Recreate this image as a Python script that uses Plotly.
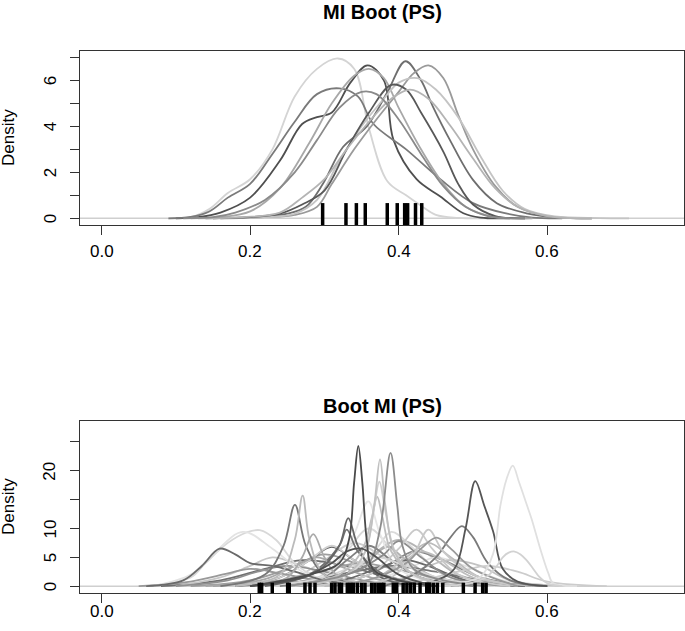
import plotly.graph_objects as go

W, H = 685, 631

top_title = "MI Boot (PS)"
bottom_title = "Boot MI (PS)"
y_label = "Density"

x_tick_vals = [0.0, 0.2, 0.4, 0.6]
x_tick_text = ["0.0", "0.2", "0.4", "0.6"]
top_y_tick_vals = [0, 1, 2, 3, 4, 5, 6, 7]
top_y_tick_text = ["0", "", "2", "", "4", "", "6", ""]
bottom_y_tick_vals = [0, 5, 10, 15, 20, 25]
bottom_y_tick_text = ["0", "5", "10", "", "20", ""]

# ---------- top panel: 10 imputation densities ----------
top_rug = [0.2976, 0.329, 0.343, 0.355, 0.3846, 0.398, 0.408, 0.412, 0.4226, 0.431]

top_curve_gray = ["#d4d4d4", "#4f4f4f", "#7a7a7a", "#a8a8a8", "#6e6e6e",
                  "#9a9a9a", "#c4c4c4", "#585858", "#b4b4b4", "#8a8a8a"]
top_curve_x = [
    [0.09, 0.12, 0.145, 0.17, 0.20, 0.23, 0.26, 0.29, 0.318, 0.34, 0.36, 0.385, 0.41, 0.43, 0.45, 0.48, 0.52],
    [0.10, 0.13, 0.16, 0.20, 0.24, 0.27, 0.29, 0.31, 0.335, 0.358, 0.38, 0.393, 0.424, 0.456, 0.487, 0.51, 0.55],
    [0.09, 0.12, 0.145, 0.17, 0.20, 0.23, 0.26, 0.29, 0.32, 0.345, 0.366, 0.41, 0.456, 0.50, 0.546, 0.58, 0.62],
    [0.12, 0.16, 0.20, 0.24, 0.28, 0.31, 0.34, 0.36, 0.38, 0.40, 0.43, 0.46, 0.49, 0.53, 0.58],
    [0.14, 0.20, 0.25, 0.275, 0.298, 0.325, 0.357, 0.385, 0.409, 0.43, 0.446, 0.469, 0.50, 0.532, 0.572, 0.62, 0.66],
    [0.16, 0.22, 0.26, 0.29, 0.31, 0.34, 0.37, 0.40, 0.42, 0.44, 0.46, 0.48, 0.50, 0.53, 0.56, 0.60, 0.66],
    [0.16, 0.22, 0.26, 0.29, 0.32, 0.35, 0.38, 0.40, 0.425, 0.45, 0.48, 0.51, 0.54, 0.57, 0.61, 0.67, 0.71],
    [0.15, 0.20, 0.24, 0.27, 0.30, 0.33, 0.36, 0.39, 0.41, 0.43, 0.46, 0.48, 0.50, 0.53, 0.57],
    [0.13, 0.19, 0.24, 0.27, 0.30, 0.33, 0.36, 0.39, 0.415, 0.44, 0.47, 0.50, 0.53, 0.56, 0.60, 0.66],
    [0.11, 0.15, 0.18, 0.22, 0.26, 0.29, 0.32, 0.35, 0.37, 0.40, 0.43, 0.46, 0.49, 0.52, 0.57],
]
top_curve_y = [
    [0.0, 0.05, 0.4, 1.1, 1.7, 3.0, 5.3, 6.5, 6.95, 6.5, 3.9, 1.6, 1.0, 0.55, 0.15, 0.02, 0.0],
    [0.0, 0.05, 0.25, 0.9, 2.5, 4.1, 4.4, 4.6, 5.9, 6.65, 6.0, 3.4, 1.7, 0.95, 0.22, 0.03, 0.0],
    [0.0, 0.06, 0.3, 0.9, 1.5, 2.8, 4.2, 5.4, 5.65, 5.3, 4.1, 3.0, 1.7, 0.66, 0.2, 0.03, 0.0],
    [0.0, 0.05, 0.3, 1.3, 3.3, 5.0, 6.2, 6.5, 6.1, 4.8, 3.0, 1.5, 0.5, 0.05, 0.0],
    [0.0, 0.05, 0.2, 0.5, 1.5, 3.1, 4.0, 5.5, 6.83, 6.0, 4.86, 3.4, 1.67, 0.66, 0.22, 0.03, 0.0],
    [0.0, 0.05, 0.15, 0.5, 1.5, 3.0, 4.3, 5.5, 6.3, 6.65, 6.1, 4.5, 3.0, 1.4, 0.5, 0.1, 0.0],
    [0.0, 0.05, 0.2, 0.8, 2.5, 4.0, 5.2, 5.9, 6.1, 5.6, 4.4, 2.7, 1.2, 0.4, 0.08, 0.01, 0.0],
    [0.0, 0.05, 0.2, 0.6, 1.2, 3.0, 4.6, 5.8, 5.6, 4.6, 2.9, 1.5, 0.6, 0.1, 0.0],
    [0.0, 0.05, 0.25, 0.9, 1.7, 3.0, 4.2, 5.2, 5.6, 5.2, 4.0, 2.6, 1.3, 0.5, 0.1, 0.0],
    [0.0, 0.05, 0.25, 0.8, 2.0, 3.4, 4.8, 5.5, 5.4, 4.3, 2.8, 1.4, 0.5, 0.1, 0.0],
]

# ---------- bottom panel: bootstrap densities ----------
bottom_rug = [0.2123, 0.2155, 0.2298, 0.2505, 0.2527, 0.2738, 0.2806, 0.2873,
              0.3097, 0.3142, 0.32, 0.323, 0.3308, 0.3353, 0.3389, 0.3443, 0.3501,
              0.3546, 0.3636, 0.368, 0.3726, 0.377, 0.380, 0.3927, 0.3973,
              0.406, 0.411, 0.416, 0.421, 0.4287, 0.4377, 0.4412, 0.4466, 0.452,
              0.4593, 0.487, 0.5028, 0.513, 0.5176]

bottom_curve_gray = [
    "#9e9e9e", "#cdcdcd", "#6f6f6f", "#b5b5b5", "#d9d9d9", "#858585", "#c7c7c7",
    "#5f5f5f", "#e2e2e2", "#a0a0a0", "#b0b0b0", "#d0d0d0", "#777777", "#bdbdbd",
    "#909090", "#dadada", "#696969", "#c2c2c2", "#a8a8a8", "#e5e5e5", "#808080",
    "#cccccc", "#999999", "#bbbbbb", "#d6d6d6", "#8c8c8c", "#c9c9c9", "#727272",
    "#d8d8d8", "#e3e3e3", "#6a6a6a", "#777777", "#bbbbbb", "#aaaaaa", "#666666",
    "#7a7a7a", "#c8c8c8", "#999999", "#555555", "#e0e0e0", "#bebebe", "#d0d0d0",
    "#c0c0c0", "#8c8c8c", "#4a4a4a", "#505050", "#d2d2d2",
]
bottom_curve_x = [
    [0.12, 0.20, 0.25, 0.30, 0.35, 0.40, 0.48],
    [0.18, 0.26, 0.30, 0.34, 0.38, 0.43, 0.50],
    [0.08, 0.16, 0.22, 0.27, 0.33, 0.40, 0.48],
    [0.25, 0.32, 0.36, 0.40, 0.44, 0.48, 0.56],
    [0.22, 0.30, 0.33, 0.36, 0.39, 0.43, 0.50],
    [0.28, 0.35, 0.39, 0.42, 0.46, 0.51, 0.58],
    [0.10, 0.16, 0.20, 0.23, 0.27, 0.32, 0.40],
    [0.18, 0.24, 0.28, 0.31, 0.34, 0.38, 0.45],
    [0.30, 0.37, 0.42, 0.45, 0.49, 0.54, 0.62],
    [0.15, 0.24, 0.30, 0.35, 0.40, 0.47, 0.56],
    [0.25, 0.32, 0.36, 0.385, 0.41, 0.45, 0.52],
    [0.17, 0.24, 0.28, 0.31, 0.34, 0.39, 0.46],
    [0.18, 0.28, 0.34, 0.39, 0.45, 0.52, 0.60],
    [0.30, 0.37, 0.41, 0.43, 0.46, 0.50, 0.57],
    [0.10, 0.17, 0.21, 0.25, 0.30, 0.36, 0.44],
    [0.27, 0.33, 0.37, 0.39, 0.42, 0.46, 0.53],
    [0.26, 0.33, 0.38, 0.41, 0.44, 0.49, 0.57],
    [0.32, 0.40, 0.44, 0.47, 0.51, 0.55, 0.63],
    [0.14, 0.22, 0.26, 0.29, 0.32, 0.37, 0.45],
    [0.24, 0.31, 0.34, 0.359, 0.375, 0.40, 0.47],
    [0.24, 0.30, 0.33, 0.36, 0.39, 0.43, 0.50],
    [0.34, 0.42, 0.48, 0.52, 0.56, 0.60, 0.68],
    [0.05, 0.12, 0.17, 0.20, 0.24, 0.30, 0.38],
    [0.30, 0.37, 0.41, 0.44, 0.47, 0.51, 0.58],
    [0.20, 0.29, 0.34, 0.37, 0.41, 0.46, 0.55],
    [0.26, 0.33, 0.38, 0.40, 0.43, 0.47, 0.55],
    [0.28, 0.36, 0.40, 0.424, 0.445, 0.48, 0.55],
    [0.20, 0.28, 0.32, 0.33, 0.345, 0.38, 0.45],
    [0.06, 0.12, 0.14, 0.17, 0.195, 0.213, 0.235, 0.26, 0.29, 0.33, 0.38],
    [0.07, 0.12, 0.15, 0.19, 0.23, 0.27, 0.32],
    [0.06, 0.11, 0.135, 0.159, 0.18, 0.20, 0.23, 0.26, 0.30, 0.35],
    [0.16, 0.22, 0.245, 0.2603, 0.275, 0.30, 0.36],
    [0.18, 0.24, 0.26, 0.2707, 0.28, 0.30, 0.36],
    [0.20, 0.25, 0.27, 0.285, 0.30, 0.32, 0.38],
    [0.22, 0.29, 0.32, 0.332, 0.345, 0.37, 0.42],
    [0.38, 0.42, 0.45, 0.47, 0.485, 0.50, 0.52, 0.55, 0.60],
    [0.33, 0.39, 0.42, 0.44, 0.46, 0.50, 0.56],
    [0.31, 0.37, 0.41, 0.43, 0.451, 0.47, 0.50, 0.56],
    [0.40, 0.45, 0.475, 0.49, 0.503, 0.515, 0.527, 0.54, 0.56, 0.60],
    [0.40, 0.48, 0.51, 0.527, 0.537, 0.545, 0.5535, 0.562, 0.5724, 0.579, 0.590, 0.6015, 0.608, 0.64],
    [0.25, 0.32, 0.35, 0.364, 0.371, 0.378, 0.39, 0.42, 0.48],
    [0.26, 0.33, 0.355, 0.366, 0.374, 0.382, 0.395, 0.42, 0.48],
    [0.26, 0.33, 0.355, 0.367, 0.3748, 0.382, 0.394, 0.42, 0.48],
    [0.25, 0.33, 0.36, 0.375, 0.389, 0.398, 0.405, 0.42, 0.46, 0.52],
    [0.20, 0.28, 0.32, 0.333, 0.340, 0.3456, 0.351, 0.357, 0.365, 0.40, 0.45],
    [0.20, 0.27, 0.31, 0.33, 0.35, 0.37, 0.40, 0.45],
    [0.46, 0.50, 0.52, 0.532, 0.54, 0.548, 0.556, 0.564, 0.572, 0.58, 0.59, 0.60, 0.62],
]
bottom_curve_y = [
    [0, 1.0, 3.0, 5.5, 3.5, 1.2, 0],
    [0, 1.5, 4.5, 7.5, 5.0, 1.5, 0],
    [0, 1.0, 3.0, 4.5, 3.5, 1.0, 0],
    [0, 1.5, 5.0, 8.0, 5.5, 2.0, 0],
    [0, 2.0, 6.0, 10.0, 6.5, 2.0, 0],
    [0, 1.5, 4.0, 6.0, 4.5, 1.5, 0],
    [0, 1.5, 3.5, 5.0, 3.5, 1.2, 0],
    [0, 1.5, 4.5, 6.8, 4.5, 1.5, 0],
    [0, 1.2, 3.5, 5.0, 3.5, 1.0, 0],
    [0, 1.0, 2.8, 4.0, 2.8, 1.0, 0],
    [0, 1.5, 4.5, 6.8, 4.5, 1.5, 0],
    [0, 1.5, 4.5, 7.0, 4.5, 1.5, 0],
    [0, 1.0, 2.5, 3.5, 2.5, 0.8, 0],
    [0, 1.5, 4.5, 6.0, 4.5, 1.5, 0],
    [0, 1.0, 2.5, 3.5, 2.5, 0.8, 0],
    [0, 2.0, 6.5, 9.4, 6.5, 2.0, 0],
    [0, 1.2, 3.5, 4.5, 3.5, 1.0, 0],
    [0, 1.2, 3.5, 4.5, 3.5, 1.0, 0],
    [0, 1.2, 3.5, 5.0, 3.5, 1.2, 0],
    [0, 2.5, 9.0, 14.7, 9.0, 3.0, 0],
    [0, 1.5, 4.5, 7.0, 4.5, 1.5, 0],
    [0, 0.8, 2.5, 3.5, 2.5, 0.8, 0],
    [0, 0.8, 2.2, 3.0, 2.2, 0.8, 0],
    [0, 1.5, 5.0, 7.5, 5.0, 1.5, 0],
    [0, 1.2, 3.5, 5.0, 3.5, 1.2, 0],
    [0, 2.0, 5.5, 7.8, 5.0, 1.5, 0],
    [0, 2.0, 6.5, 9.8, 6.5, 2.0, 0],
    [0, 2.0, 7.0, 9.8, 6.0, 2.0, 0],
    [0, 1.5, 4.0, 7.5, 9.3, 9.7, 8.0, 4.0, 1.5, 0.3, 0],
    [0, 2.0, 5.5, 9.4, 6.5, 2.5, 0],
    [0, 1.0, 3.5, 6.5, 5.5, 4.0, 3.5, 2.5, 1.0, 0],
    [0, 2.0, 7.0, 14.1, 7.0, 2.0, 0],
    [0, 2.0, 8.0, 15.7, 8.0, 2.0, 0],
    [0, 1.5, 5.0, 9.0, 5.0, 1.5, 0],
    [0, 2.5, 7.0, 11.8, 7.0, 2.0, 0],
    [0, 2.0, 5.0, 8.5, 10.4, 8.5, 4.0, 1.0, 0],
    [0, 1.5, 5.5, 9.8, 6.0, 2.0, 0],
    [0, 1.5, 4.0, 6.5, 8.4, 6.5, 3.0, 0],
    [0, 1.0, 3.0, 10.0, 18.2, 14.0, 9.5, 3.0, 0.8, 0],
    [0, 0.6, 1.6, 5.6, 14.1, 18.5, 20.9, 18.0, 14.1, 11.6, 6.7, 2.2, 0.5, 0],
    [0, 2.0, 6.0, 12.0, 15.5, 12.0, 6.0, 2.0, 0],
    [0, 2.0, 6.0, 13.0, 18.1, 13.0, 6.0, 2.0, 0],
    [0, 2.0, 6.0, 14.0, 21.96, 14.0, 6.0, 2.0, 0],
    [0, 2.0, 4.0, 10.0, 23.1, 14.0, 7.0, 3.0, 1.0, 0],
    [0, 2.0, 4.0, 8.0, 18.0, 24.3, 18.0, 8.0, 3.0, 1.0, 0],
    [0, 1.5, 4.0, 6.0, 6.5, 5.0, 2.0, 0],
    [0, 0.6, 1.8, 3.5, 5.0, 5.8, 6.0, 5.5, 4.5, 3.2, 1.5, 0.5, 0],
]

# ---------- geometry (pixels in the 685x631 page) ----------
PLOT_L, PLOT_R = 80, 684
TOP_T, TOP_B = 51, 225
BOT_T, BOT_B = 421, 593
FONT = "Liberation Sans, Arial, Helvetica, sans-serif"
AXIS_COL = "#333333"
TICK_FONT = dict(family=FONT, size=17, color="black")
LINE_W = 1.8


def dom_x(a, b):
    return [a / W, b / W]


def dom_y(t, b):
    return [1 - b / H, 1 - t / H]


fig = go.Figure()

for xs, ys, col in zip(top_curve_x, top_curve_y, top_curve_gray):
    fig.add_trace(go.Scatter(x=xs, y=ys, mode="lines", xaxis="x", yaxis="y",
                             line=dict(color=col, width=LINE_W, shape="spline", smoothing=1.0),
                             hoverinfo="skip", showlegend=False))

for xs, ys, col in zip(bottom_curve_x, bottom_curve_y, bottom_curve_gray):
    fig.add_trace(go.Scatter(x=xs, y=ys, mode="lines", xaxis="x2", yaxis="y2",
                             line=dict(color=col, width=LINE_W, shape="spline", smoothing=1.0),
                             hoverinfo="skip", showlegend=False))

shapes = []
# zero reference lines
for xr, yr in (("x", "y"), ("x2", "y2")):
    shapes.append(dict(type="line", xref=xr + " domain", x0=0, x1=1, yref=yr, y0=0, y1=0,
                       line=dict(color="#cfcfcf", width=1.5), layer="below"))
# rugs
for v in top_rug:
    shapes.append(dict(type="line", xref="x", x0=v, x1=v, yref="y domain", y0=0, y1=0.126,
                       line=dict(color="black", width=3.5), layer="above"))
for v in bottom_rug:
    shapes.append(dict(type="line", xref="x2", x0=v, x1=v, yref="y2 domain", y0=0, y1=0.06,
                       line=dict(color="black", width=3.5), layer="above"))

axis_common = dict(showgrid=False, zeroline=False, showline=True, mirror=True,
                   linecolor=AXIS_COL, linewidth=1.2, ticks="outside", ticklen=9,
                   tickwidth=1.2, tickcolor=AXIS_COL, showticklabels=False)

annotations = [
    dict(text="<b>" + top_title + "</b>", xref="paper", yref="paper",
         x=(PLOT_L + PLOT_R) / 2 / W, y=1 - 12 / H, showarrow=False,
         xanchor="center", yanchor="middle", font=dict(family=FONT, size=20, color="black")),
    dict(text="<b>" + bottom_title + "</b>", xref="paper", yref="paper",
         x=(PLOT_L + PLOT_R) / 2 / W, y=1 - 406 / H, showarrow=False,
         xanchor="center", yanchor="middle", font=dict(family=FONT, size=20, color="black")),
    dict(text=y_label, xref="paper", yref="paper", x=8 / W, y=1 - (TOP_T + TOP_B) / 2 / H,
         textangle=-90, showarrow=False, xanchor="center", yanchor="middle",
         font=dict(family=FONT, size=17, color="black")),
    dict(text=y_label, xref="paper", yref="paper", x=8 / W, y=1 - (BOT_T + BOT_B) / 2 / H,
         textangle=-90, showarrow=False, xanchor="center", yanchor="middle",
         font=dict(family=FONT, size=17, color="black")),
]

# x tick labels (real text tied to the x axes' data coordinates)
for xa, label_y in (("x", TOP_B + 26), ("x2", BOT_B + 18)):
    for v, t in zip(x_tick_vals, x_tick_text):
        annotations.append(dict(text=t, xref=xa, yref="paper", x=v, y=1 - label_y / H,
                                showarrow=False, xanchor="center", yanchor="middle",
                                font=TICK_FONT))
# y tick labels, rotated like R's default
for ya, vals, texts in (("y", top_y_tick_vals, top_y_tick_text),
                        ("y2", bottom_y_tick_vals, bottom_y_tick_text)):
    for v, t in zip(vals, texts):
        if t:
            annotations.append(dict(text=t, xref="paper", yref=ya, x=50 / W, y=v,
                                    textangle=-90, showarrow=False,
                                    xanchor="center", yanchor="middle", font=TICK_FONT))

fig.update_layout(
    width=W, height=H,
    margin=dict(l=0, r=0, t=0, b=0),
    paper_bgcolor="white", plot_bgcolor="white",
    showlegend=False,
    xaxis=dict(domain=dom_x(PLOT_L, PLOT_R), anchor="y", range=[-0.029, 0.784],
               tickvals=x_tick_vals, **axis_common),
    yaxis=dict(domain=dom_y(TOP_T, TOP_B), anchor="x", range=[-0.29, 7.275],
               tickvals=top_y_tick_vals, **axis_common),
    xaxis2=dict(domain=dom_x(PLOT_L, PLOT_R), anchor="y2", range=[-0.029, 0.784],
                tickvals=x_tick_vals, **axis_common),
    yaxis2=dict(domain=dom_y(BOT_T, BOT_B), anchor="x2", range=[-1.19, 28.63],
                tickvals=bottom_y_tick_vals, **axis_common),
    shapes=shapes,
    annotations=annotations,
)

# the page's default 8px body margin would shift and clip the 685x631 figure
fig.write_html("out.html", config={"displayModeBar": False},
               post_script="document.body.style.margin='0px';document.body.style.overflow='hidden';")
